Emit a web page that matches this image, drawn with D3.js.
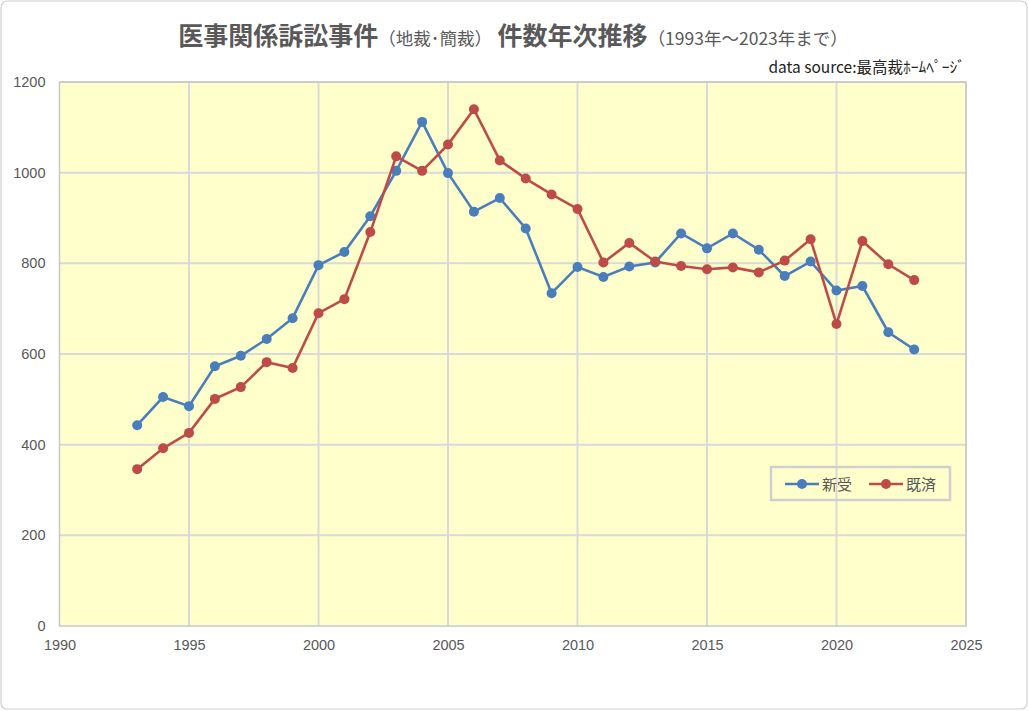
<!DOCTYPE html>
<html><head><meta charset="utf-8">
<script src="https://cdn.jsdelivr.net/npm/d3@7"></script>
<style>body{margin:0;background:#fff;}svg{display:block;}</style>
</head><body>
<svg id="c" width="1029" height="711"></svg>
<script>
const years = d3.range(1993, 2024);
const shinju = [443,505,485,573,596,633,679,796,825,904,1004,1112,999,914,944,877,734,792,770,793,802,866,833,866,830,772,804,740,750,648,610];
const kisai  = [346,392,426,501,527,582,569,690,721,869,1036,1004,1062,1140,1027,987,952,920,802,845,804,794,787,791,780,806,853,666,849,798,763];
const xTicks = [1990,1995,2000,2005,2010,2015,2020,2025];
const yTicks = [0,200,400,600,800,1000,1200];
const seriesNames = ["新受","既済"];
const colors = ["#4A7EBB","#BE4B48"];

const svg = d3.select("#c");
const m = {l:59.5, r:966, t:82, b:626};
const x = d3.scaleLinear().domain([1990,2025]).range([m.l,m.r]);
const y = d3.scaleLinear().domain([0,1200]).range([m.b,m.t]);

svg.append("rect").attr("x",1).attr("y",1).attr("width",1026).attr("height",708).attr("rx",6)
  .attr("fill","#fff").attr("stroke","#d0d0d0").attr("stroke-width",1.2);

svg.append("rect").attr("x",m.l).attr("y",m.t).attr("width",m.r-m.l).attr("height",m.b-m.t).attr("fill","#FFFFCC");

// grid
svg.append("g").selectAll("line").data(yTicks.slice(1)).join("line")
  .attr("x1",m.l).attr("x2",m.r).attr("y1",d=>y(d)).attr("y2",d=>y(d))
  .attr("stroke","#d9d9d9").attr("stroke-width",2);
svg.append("g").selectAll("line").data(xTicks.slice(1)).join("line")
  .attr("y1",m.t).attr("y2",m.b).attr("x1",d=>x(d)).attr("x2",d=>x(d))
  .attr("stroke","#d9d9d9").attr("stroke-width",2);
svg.append("rect").attr("x",m.l).attr("y",m.t).attr("width",m.r-m.l).attr("height",m.b-m.t)
  .attr("fill","none").attr("stroke","#c8c8c8").attr("stroke-width",1.5);

// axes
const xa = svg.append("g").attr("transform",`translate(0,${m.b})`)
  .call(d3.axisBottom(x).tickValues(xTicks).tickFormat(d3.format("d")).tickSize(0).tickPadding(14));
const ya = svg.append("g").attr("transform",`translate(${m.l},0)`)
  .call(d3.axisLeft(y).tickValues(yTicks).tickFormat(d3.format("d")).tickSize(0).tickPadding(14));
[xa,ya].forEach(a=>{a.select(".domain").remove();
  a.selectAll("text").attr("fill","#595959").attr("font-family","'Liberation Sans',Arial,sans-serif").attr("font-size",14.5);});

// title
const t = svg.append("text").attr("x",513).attr("y",45).attr("text-anchor","middle")
  .attr("font-family","'Noto Sans CJK JP',sans-serif").attr("fill","#595959");
t.append("tspan").attr("font-size",25).attr("font-weight","bold").text("医事関係訴訟事件");
t.append("tspan").attr("font-size",17.5).text("（地裁･簡裁）");
t.append("tspan").attr("font-size",25).attr("font-weight","bold").text(" 件数年次推移");
t.append("tspan").attr("font-size",17.5).text("（1993年～2023年まで）");

svg.append("text").attr("x",965).attr("y",73).attr("text-anchor","end")
  .attr("font-family","'Noto Sans CJK JP',sans-serif").attr("font-size",15.5).attr("fill","#222")
  .text("data source:最高裁ﾎｰﾑﾍﾟｰｼﾞ");

// series
const data = [shinju, kisai];
const line = d3.line().x((d,i)=>x(years[i])).y(d=>y(d));
data.forEach((s,k)=>{
  const g = svg.append("g");
  g.append("path").datum(s).attr("d",line).attr("fill","none").attr("stroke",colors[k]).attr("stroke-width",2.6);
  g.selectAll("circle").data(s).join("circle").attr("cx",(d,i)=>x(years[i])).attr("cy",d=>y(d)).attr("r",5)
    .attr("fill",colors[k]);
});

// legend
const lg = svg.append("g");
lg.append("rect").attr("x",771).attr("y",467).attr("width",179).attr("height",33)
  .attr("fill","none").attr("stroke","#cfcfcf").attr("stroke-width",2.5);
seriesNames.forEach((n,k)=>{
  const x0 = 785 + k*84;
  lg.append("line").attr("x1",x0).attr("x2",x0+34).attr("y1",484).attr("y2",484).attr("stroke",colors[k]).attr("stroke-width",2.6);
  lg.append("circle").attr("cx",x0+17).attr("cy",484).attr("r",5).attr("fill",colors[k]);
  lg.append("text").attr("x",x0+37).attr("y",490).attr("font-family","'Noto Sans CJK JP',sans-serif")
    .attr("font-size",15).attr("fill","#595959").text(n);
});
</script>
</body></html>
